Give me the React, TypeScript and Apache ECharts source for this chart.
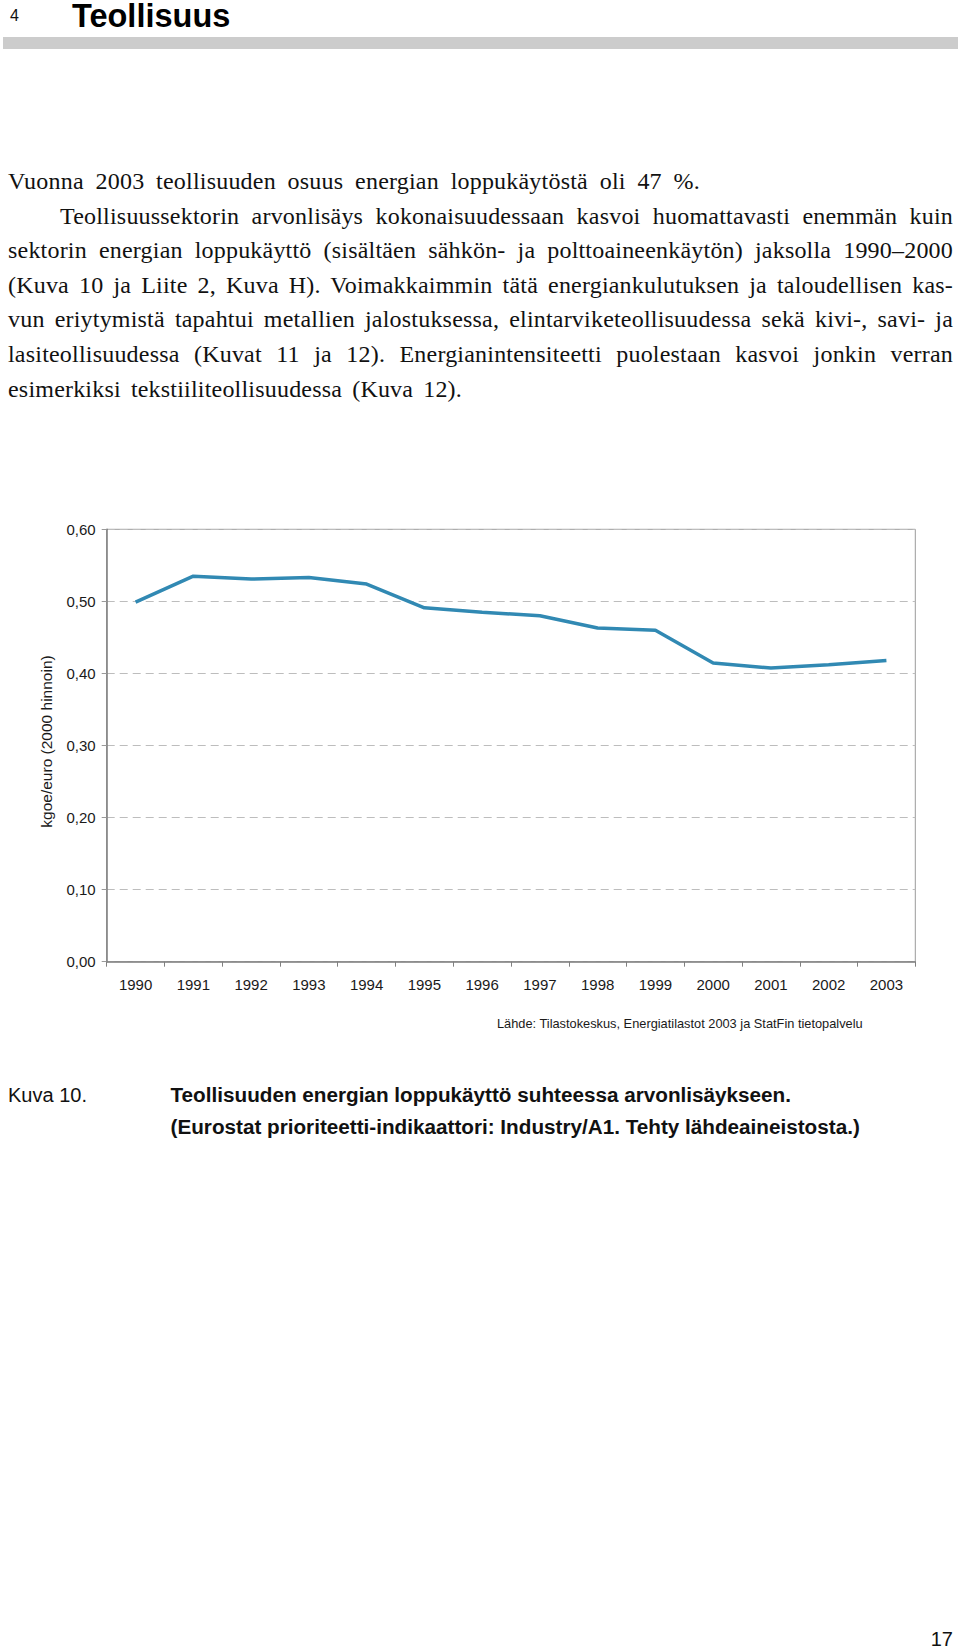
import React, { useEffect, useRef } from "react";
import * as echarts from "echarts";

// ---- data ----
const years = ["1990", "1991", "1992", "1993", "1994", "1995", "1996", "1997", "1998", "1999", "2000", "2001", "2002", "2003"];
const intensity = [0.499, 0.535, 0.531, 0.533, 0.524, 0.491, 0.485, 0.48, 0.463, 0.46, 0.4145, 0.4075, 0.412, 0.418];
const yMin = 0;
const yMax = 0.6;
const yStep = 0.1;
const yAxisName = "kgoe/euro (2000 hinnoin)";
const sourceText = "Lähde: Tilastokeskus, Energiatilastot 2003 ja StatFin tietopalvelu";

const pageNumberTop = "4";
const heading = "Teollisuus";
const paragraphLines = [
  "Vuonna 2003 teollisuuden osuus energian loppukäytöstä oli 47 %.",
  "Teollisuussektorin arvonlisäys kokonaisuudessaan kasvoi huomattavasti enemmän kuin",
  "sektorin energian loppukäyttö (sisältäen sähkön- ja polttoaineenkäytön) jaksolla 1990–2000",
  "(Kuva 10 ja Liite 2, Kuva H). Voimakkaimmin tätä energiankulutuksen ja taloudellisen kas-",
  "vun eriytymistä tapahtui metallien jalostuksessa, elintarviketeollisuudessa sekä kivi-, savi- ja",
  "lasiteollisuudessa (Kuvat 11 ja 12). Energianintensiteetti puolestaan kasvoi jonkin verran",
  "esimerkiksi tekstiiliteollisuudessa (Kuva 12).",
];
const captionLabel = "Kuva 10.";
const captionLines = [
  "Teollisuuden energian loppukäyttö suhteessa arvonlisäykseen.",
  "(Eurostat prioriteetti-indikaattori: Industry/A1. Tehty lähdeaineistosta.)",
];
const pageNumberBottom = "17";

// layout of paragraph lines: [left, right]
const lineExtents: [number, number][] = [
  [8, 700],
  [60, 953],
  [8, 953],
  [8, 953],
  [8, 953],
  [8, 953],
  [8, 462],
];

const SANS = '"Liberation Sans", Arial, Helvetica, sans-serif';
const SERIF = '"Liberation Serif", "Times New Roman", serif';

function Chart() {
  const ref = useRef<HTMLDivElement>(null);
  useEffect(() => {
    if (!ref.current) return;
    const chart = echarts.init(ref.current, undefined, { renderer: "svg" });
    chart.setOption({
      animation: false,
      backgroundColor: "#ffffff",
      grid: {
        show: true,
        left: 106.7,
        top: 49.3,
        width: 808.6,
        height: 432.4,
        borderColor: "#9a9a9a",
        borderWidth: 1,
        backgroundColor: "transparent",
      },
      xAxis: {
        type: "category",
        data: years,
        boundaryGap: true,
        axisLine: { lineStyle: { color: "#808080", width: 1.5 } },
        axisTick: { show: true, interval: 0, length: 5, lineStyle: { color: "#808080", width: 1 } },
        axisLabel: { interval: 0, margin: 15, color: "#1a1a1a", fontSize: 15, fontFamily: SANS },
        splitLine: { show: false },
      },
      yAxis: {
        type: "value",
        min: yMin,
        max: yMax,
        interval: yStep,
        name: yAxisName,
        nameLocation: "middle",
        nameGap: 52.5,
        nameRotate: 90,
        nameTextStyle: { color: "#1a1a1a", fontSize: 15.5, fontFamily: SANS, padding: [0, 0, 0, 8] },
        axisLine: { show: true, lineStyle: { color: "#808080", width: 1.5 } },
        axisTick: { show: true, length: 5, lineStyle: { color: "#9a9a9a", width: 1 } },
        axisLabel: {
          margin: 11,
          color: "#1a1a1a",
          fontSize: 15,
          fontFamily: SANS,
          formatter: (v: number) => v.toFixed(2).replace(".", ","),
        },
        splitLine: { show: true, lineStyle: { color: "#bdbdbd", width: 1, type: [8, 5] } },
      },
      series: [
        {
          type: "line",
          data: intensity,
          symbol: "none",
          lineStyle: { color: "#3189b3", width: 3.5 },
          itemStyle: { color: "#3189b3" },
        },
      ],
      graphic: [
        {
          type: "text",
          x: 497,
          y: 543,
          style: {
            text: sourceText,
            font: '12.8px "Liberation Sans", Arial, sans-serif',
            fill: "#1a1a1a",
            align: "left",
            verticalAlign: "middle",
          },
        },
      ],
    });
    return () => chart.dispose();
  }, []);
  return <div ref={ref} style={{ position: "absolute", left: 0, top: 480, width: 960, height: 570 }} />;
}

export default function App() {
  const lineH = 34.6;
  const firstTop = 164;
  return (
    <div style={{ position: "absolute", left: 0, top: 0, width: 960, height: 1650, background: "#fff", color: "#111" }}>
      <div style={{ position: "absolute", left: 10, top: 6, fontFamily: SANS, fontSize: 16, lineHeight: "20px" }}>
        {pageNumberTop}
      </div>
      <div style={{ position: "absolute", left: 72, top: -0.5, fontFamily: SANS, fontWeight: "bold", fontSize: 32.5, lineHeight: "33px", color: "#000" }}>
        {heading}
      </div>
      <div style={{ position: "absolute", left: 3, top: 37, width: 955, height: 12, background: "#cccccc" }} />

      {paragraphLines.map((t, i) => (
        <div
          key={i}
          style={{
            position: "absolute",
            left: lineExtents[i][0],
            top: firstTop + i * lineH,
            width: lineExtents[i][1] - lineExtents[i][0],
            fontFamily: SERIF,
            fontSize: 24,
            letterSpacing: "0.2px",
            lineHeight: lineH + "px",
            textAlign: "justify",
            textAlignLast: "justify",
            whiteSpace: "nowrap",
            color: "#111",
          } as React.CSSProperties}
        >
          {t}
        </div>
      ))}

      <Chart />

      <div style={{ position: "absolute", left: 8, top: 1081, fontFamily: SANS, fontSize: 20, lineHeight: "28px", color: "#111" }}>
        {captionLabel}
      </div>
      {captionLines.map((t, i) => (
        <div
          key={i}
          style={{ position: "absolute", left: 170.5, top: 1081 + i * 32, fontFamily: SANS, fontWeight: "bold", fontSize: 20.7, lineHeight: "28px", color: "#111", whiteSpace: "nowrap" }}
        >
          {t}
        </div>
      ))}

      <div style={{ position: "absolute", right: 7, top: 1625, fontFamily: SANS, fontSize: 20, lineHeight: "28px", color: "#111" }}>
        {pageNumberBottom}
      </div>
    </div>
  );
}
